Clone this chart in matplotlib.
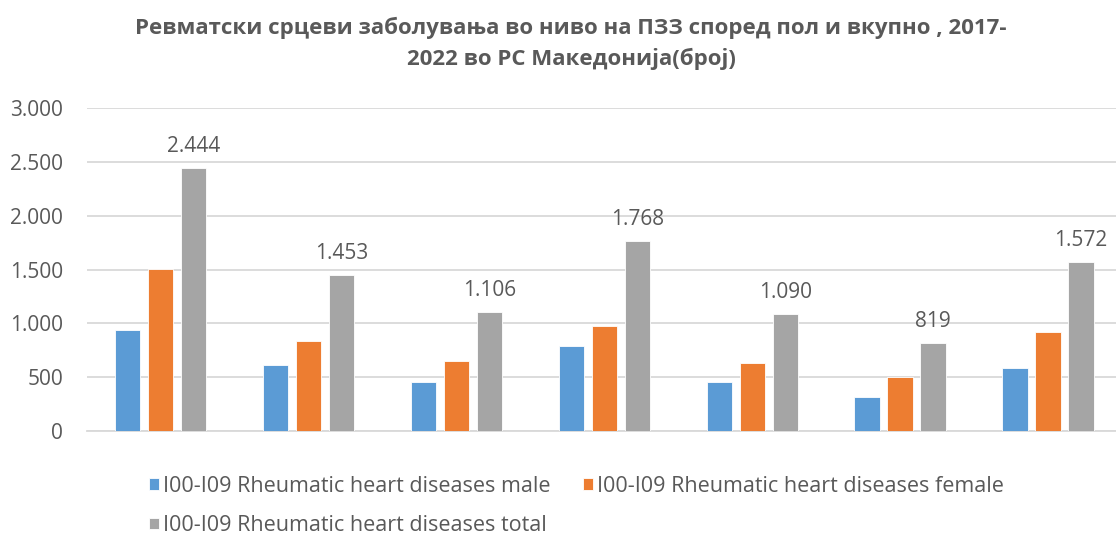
import numpy as np
import matplotlib
matplotlib.use("Agg")
import matplotlib.pyplot as plt

# podatoci (procenka od grafikonot)
godini = ["2017", "2018", "2019", "2020", "2021", "2022", "вкупно"]
masko = [940, 612, 452, 792, 456, 315, 590]
zensko = [1502, 841, 654, 976, 634, 504, 917]
vkupno = [2444, 1453, 1106, 1768, 1090, 819, 1572]
oznaki = ["2.444", "1.453", "1.106", "1.768", "1.090", "819", "1.572"]
serii = ["I00-I09 Rheumatic heart diseases male",
         "I00-I09 Rheumatic heart diseases female",
         "I00-I09 Rheumatic heart diseases total"]

boi = ["#5B9BD5", "#ED7D31", "#A5A5A5"]
siva = "#595959"
plt.rcParams['font.family'] = ['Open Sans', 'DejaVu Sans']

fig = plt.figure(figsize=(11.16, 5.37), dpi=100)
ax = fig.add_axes([0.0777, 0.1974, 0.9277, 0.601])

x = np.arange(len(godini))
w = 0.172
pomest = 0.223
bars = []
for i, (vr, boja) in enumerate(zip([masko, zensko, vkupno], boi)):
    b = ax.bar(x + (i - 1) * pomest, vr, width=w, color=boja,
               edgecolor="white", linewidth=0.6, label=serii[i], zorder=3)
    bars.append(b)

for xi, v, t in zip(x + pomest, vkupno, oznaki):
    ax.annotate(t, (xi, v), xytext=(0, 8), textcoords="offset points",
                ha="center", va="bottom", fontsize=15, color=siva)

ax.set_xlim(-0.5, len(godini) - 0.5)
ax.set_ylim(0, 3000)
ax.set_yticks(np.arange(0, 3001, 500))
ax.set_yticklabels(["0", "500", "1.000", "1.500", "2.000", "2.500", "3.000"])
ax.set_xticks([])
ax.tick_params(axis="y", length=0, pad=17, labelsize=15, labelcolor=siva)
ax.grid(axis="y", color="#D9D9D9", linewidth=1.3, zorder=0)
for s in ["top", "right", "left"]:
    ax.spines[s].set_visible(False)
ax.spines["bottom"].set_color("#D9D9D9")
ax.spines["bottom"].set_linewidth(1.3)

fig.text(0.5117, 0.968, "Ревматски срцеви заболувања во ниво на ПЗЗ според пол и вкупно , 2017-\n2022 во РС Македонија(број)",
         ha="center", va="top", fontsize=16, fontweight="bold", color=siva,
         linespacing=1.48)

h = [bars[0], bars[2], bars[1]]
l = [serii[0], serii[2], serii[1]]
fig.legend(h, l, ncol=2, loc="upper left", bbox_to_anchor=(0.124, 0.134),
           frameon=False, fontsize=15.5, labelcolor=siva, handlelength=0.45,
           handleheight=0.45, handletextpad=0.2, columnspacing=1.5,
           labelspacing=0.85, borderpad=0)

fig.savefig("out.png", dpi=100)
